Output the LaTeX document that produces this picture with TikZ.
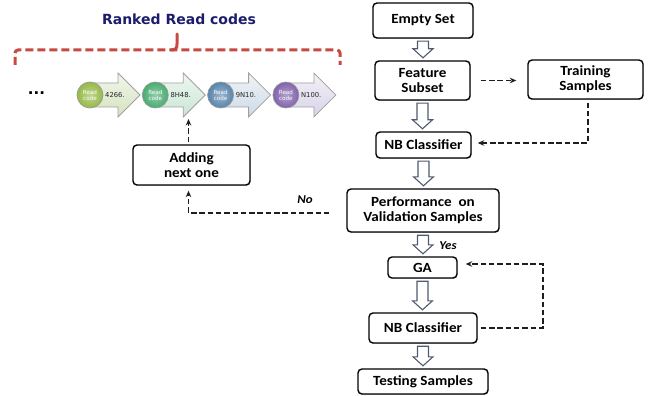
\documentclass[tikz,border=0pt]{standalone}
\usepackage{fontspec}
\setmainfont{Carlito}
\newfontfamily\boxfont[FakeStretch=1.08]{Carlito}
\newfontfamily\titlefont{DejaVu Sans}
\usetikzlibrary{arrows.meta,calc,shadows}

\definecolor{navy}{RGB}{28,28,110}
\definecolor{bracered}{RGB}{200,72,66}
\definecolor{blockedge}{RGB}{80,90,112}
\definecolor{dashink}{RGB}{30,30,30}
\definecolor{tintA}{RGB}{212,226,190}
\definecolor{tintB}{RGB}{200,230,212}
\definecolor{tintC}{RGB}{204,218,230}
\definecolor{tintD}{RGB}{216,210,232}
\definecolor{ballA}{RGB}{150,185,70}
\definecolor{ballB}{RGB}{72,172,112}
\definecolor{ballC}{RGB}{88,132,172}
\definecolor{ballD}{RGB}{128,98,172}

% hollow block arrow between two stacked boxes
\newcommand\blockarrow[2]{%
  \draw[blockarrow] let \p1=(#1.south), \p2=(#2.north) in
    (\x1-5.5pt,\y1-2.5pt) -- (\x1-5.5pt,\y2+11.5pt) -- (\x1-10pt,\y2+11.5pt)
    -- (\x1,\y2+2.5pt) -- (\x1+10pt,\y2+11.5pt) -- (\x1+5.5pt,\y2+11.5pt)
    -- (\x1+5.5pt,\y1-2.5pt) -- cycle;}

\begin{document}
\begin{tikzpicture}[x=1pt,y=-1pt,
  stepbox/.style={draw, line width=1.4pt, rounded corners=4pt, align=center,
    inner sep=0pt, fill=white,
    font=\boxfont\bfseries\fontsize{14}{14.7}\selectfont,
    drop shadow={shadow xshift=0.6pt,shadow yshift=-0.9pt,opacity=0.45}},
  blockarrow/.style={draw=blockedge, line width=1.1pt, fill=white, line join=miter},
  dashline/.style={dashink, line width=1.8pt, dash pattern=on 5.5pt off 2.8pt,
    -{Stealth[length=6.5pt,width=5.5pt]}},
  answer/.style={inner sep=0pt, font=\boxfont\bfseries\itshape\fontsize{12}{12}\selectfont},
  chainarrow/.style={draw=gray!75, line width=0.8pt, line join=miter},
  codeball/.style={circle, minimum size=26pt, inner sep=0pt, draw=gray!80,
    line width=0.7pt, text=white, align=center,
    font=\titlefont\fontsize{5.6}{6}\selectfont},
  codelabel/.style={inner sep=0pt, text=black!85,
    font=\titlefont\fontsize{6.8}{7}\selectfont}]

\useasboundingbox (0,0) rectangle (657,396);

% ---------- main flow ----------
\node[stepbox, minimum width=100pt, minimum height=35pt] (empty) at (423,20.5) {Empty Set};
\node[stepbox, minimum width=95pt, minimum height=39pt] (feat) at (422.5,80.5) {Feature\\Subset};
\node[stepbox, minimum width=115pt, minimum height=39pt] (train) at (585.5,79.5) {Training\\Samples};
\node[stepbox, minimum width=95pt, minimum height=26pt] (nb1) at (423.5,145) {NB Classifier};
\node[stepbox, minimum width=152pt, minimum height=43pt] (perf) at (423,210.5) {Performance~ on\\Validation Samples};
\node[stepbox, minimum width=69pt, minimum height=21pt] (ga) at (422.5,267.5) {GA};
\node[stepbox, minimum width=108pt, minimum height=30pt] (nb2) at (423,328) {NB Classifier};
\node[stepbox, minimum width=130pt, minimum height=25pt] (test) at (423,381.5) {Testing Samples};
\node[stepbox, minimum width=117pt, minimum height=40pt] (add) at (191.5,165) {Adding\\next one};

\blockarrow{empty}{feat}
\blockarrow{feat}{nb1}
\blockarrow{nb1}{perf}
\blockarrow{perf}{ga}
\blockarrow{ga}{nb2}
\blockarrow{nb2}{test}

% ---------- dashed links ----------
\draw[dashline] ([xshift=10pt]feat.east) -- ([xshift=-11pt]feat.east -| train.west);
\draw[dashline] ([xshift=2.5pt,yshift=-3pt]train.south) |- ([xshift=6pt,yshift=2pt]nb1.east);
\draw[dashline] ([xshift=-17pt,yshift=-2.5pt]perf.west) -| ([xshift=-3pt,yshift=-5pt]add.south);
\draw[dashline] ([xshift=3pt]nb2.east) -- ++(62,0) |- ([xshift=8pt,yshift=3.5pt]ga.east);

\node[answer] (no) at (305,200) {No};
\node[answer] (yes) at (448,246) {Yes};

% ---------- ranked code chain ----------
\node[inner sep=0pt, anchor=base, text=navy,
  font=\titlefont\bfseries\fontsize{14}{16}\selectfont] (title) at (179,25) {Ranked Read codes};

\draw[bracered, line width=3pt, dash pattern=on 8pt off 4pt, rounded corners=3pt]
  (15,65) -- (15,50) -- (340,50) -- (340,65);
\draw[bracered, line width=3pt, line cap=round]
  (171,50) .. controls (176,50) and (177,48) .. (177,44) -- (177,34);

\node[inner sep=0pt, anchor=base, font=\titlefont\bfseries\fontsize{15}{15}\selectfont] (dots) at (36.5,95) {...};

\foreach \k/\code/\ball/\tint in {0/4266./ballA/tintA, 1/8H48./ballB/tintB, 2/9N10./ballC/tintC, 3/N100./ballD/tintD}{
  \pgfmathsetmacro\c{77+65.3*\k}
  \draw[chainarrow, top color=\tint!30!white, bottom color=\tint]
    (\c+10,83) -- (\c+41,83) -- (\c+41,73) -- (\c+63,95) -- (\c+41,117)
    -- (\c+41,107) -- (\c+10,107) -- cycle;
  \node[codeball, inner color=\ball!60!white, outer color=\ball] (rc\k) at (\c+13,95) {Read\\code};
  \node[codelabel, anchor=west] (lab\k) at (\c+28,95) {\code};
}

\coordinate (chainend) at (188.5,119);
\draw[dashline] ([xshift=-3pt,yshift=2pt]add.north) -- (chainend);

\end{tikzpicture}
\end{document}
